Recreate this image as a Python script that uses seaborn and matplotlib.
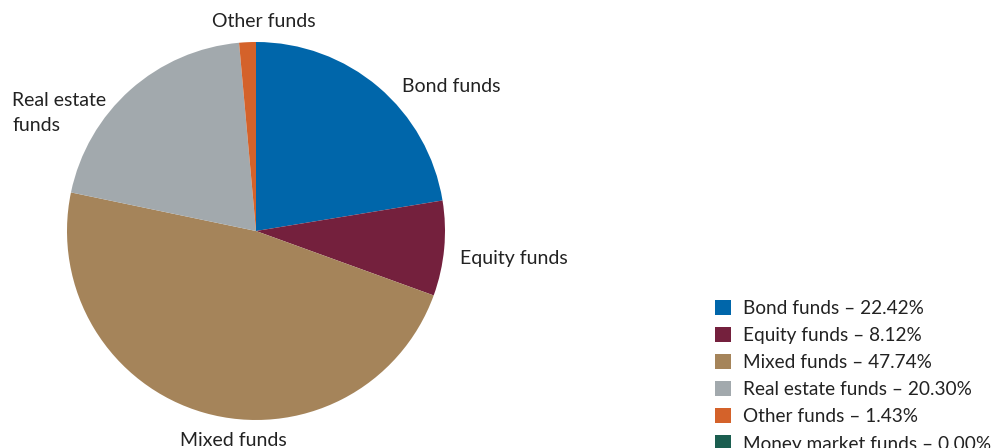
import matplotlib.pyplot as plt
import seaborn as sns
from matplotlib.patches import Patch

sns.set_theme(style="white")
plt.rcParams['font.family'] = ['Lato', 'DejaVu Sans']

categories = ['Bond funds', 'Equity funds', 'Mixed funds', 'Real estate funds',
              'Other funds', 'Money market funds']
shares = [22.42, 8.12, 47.74, 20.30, 1.43, 0.00]
colors = ['#0066AA', '#74203D', '#A5845A', '#A2A9AD', '#D4622A', '#1B5E50']

fig = plt.figure(figsize=(9.95, 4.48), dpi=100)
ax = fig.add_axes([67 / 995, 28 / 448, 378 / 995, 378 / 448])

ax.pie(shares, colors=colors, startangle=90, counterclock=False,
       wedgeprops={'linewidth': 0})
ax.set_xlim(-1, 1)
ax.set_ylim(-1, 1)
ax.set_aspect('equal')
ax.axis('off')

txt = dict(fontsize=14, color='#222222', va='center', clip_on=False)
ax.text(0.772, 0.762, 'Bond funds', ha='left', **txt)
ax.text(1.079, -0.143, 'Equity funds', ha='left', **txt)
ax.text(-0.122, -1.106, 'Mixed funds', ha='center', **txt)
ax.text(-1.291, 0.624, 'Real estate\nfunds', ha='left', linespacing=1.6, **txt)
ax.text(0.042, 1.106, 'Other funds', ha='center', **txt)

handles = [Patch(facecolor=c, edgecolor='none') for c in colors]
labels = [f'{n} – {v:.2f}%' for n, v in zip(categories, shares)]
fig.legend(handles, labels, loc='upper left', bbox_to_anchor=(715 / 995, 1 - 300 / 448),
           frameon=False, fontsize=13.7, handlelength=0.85, handleheight=0.85,
           handletextpad=0.6, labelspacing=0.52, borderaxespad=0, borderpad=0,
           labelcolor='#222222')

plt.savefig('out.png', dpi=100)
